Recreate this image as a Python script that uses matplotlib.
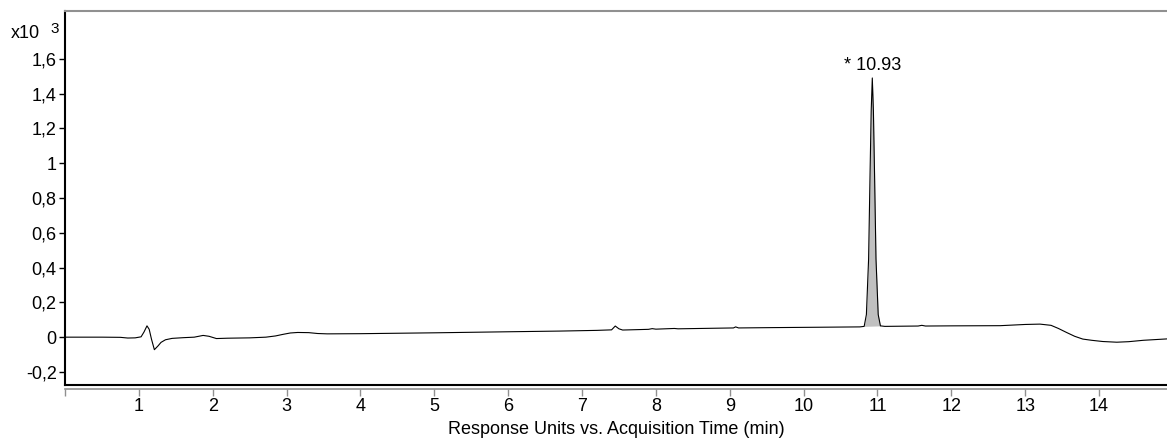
import matplotlib.pyplot as plt
import numpy as np

plt.rcParams['font.family'] = ['Liberation Sans', 'DejaVu Sans']
plt.rcParams['font.size'] = 13

# retention time (min) and response (x10^3 units)
time_min = [0.00, 0.50, 0.75, 0.85, 0.95, 1.03, 1.07, 1.11, 1.14, 1.17, 1.21, 1.26,
            1.30, 1.36, 1.45, 1.60, 1.75, 1.87, 1.95, 2.05, 2.20, 2.50, 2.72,
            2.85, 2.95, 3.05, 3.15, 3.30, 3.42, 3.55, 4.00, 5.00, 6.00, 6.70,
            7.20, 7.40, 7.45, 7.50, 7.55, 7.90, 7.95, 8.00, 8.25, 8.30, 8.60,
            9.05, 9.08, 9.12, 9.60, 10.20, 10.76, 10.82, 10.85, 10.88, 10.90,
            10.915, 10.93, 10.945, 10.96, 10.98, 11.01, 11.04, 11.10, 11.55,
            11.60, 11.65, 12.00, 12.66, 13.00, 13.20, 13.35, 13.45, 13.56,
            13.67, 13.78, 13.90, 14.05, 14.24, 14.40, 14.60, 14.92]
response = [0.000, 0.000, -0.001, -0.005, -0.004, 0.002, 0.030, 0.065, 0.045,
            -0.010, -0.072, -0.050, -0.030, -0.015, -0.007, -0.003, 0.000,
            0.010, 0.005, -0.008, -0.006, -0.004, 0.000, 0.007, 0.016, 0.024,
            0.027, 0.026, 0.021, 0.019, 0.020, 0.025, 0.031, 0.035, 0.039,
            0.042, 0.064, 0.048, 0.041, 0.045, 0.049, 0.046, 0.050, 0.048,
            0.050, 0.053, 0.059, 0.053, 0.055, 0.057, 0.059, 0.062, 0.130,
            0.450, 0.950, 1.300, 1.490, 1.300, 0.950, 0.450, 0.130, 0.065,
            0.062, 0.064, 0.068, 0.064, 0.065, 0.066, 0.073, 0.075, 0.068,
            0.050, 0.027, 0.005, -0.011, -0.018, -0.025, -0.029, -0.026,
            -0.018, -0.010]

peak_rt = 10.93
peak_start, peak_end = 10.82, 11.04
y_ticks = [-0.2, 0, 0.2, 0.4, 0.6, 0.8, 1, 1.2, 1.4, 1.6]
y_labels = ['-0,2', '0', '0,2', '0,4', '0,6', '0,8', '1', '1,2', '1,4', '1,6']
x_ticks = list(range(0, 15))

t = np.array(time_min)
r = np.array(response)

fig = plt.figure(figsize=(11.67, 4.4), dpi=100)
ax = fig.add_axes([0.0557, 0.125, 0.9443, 0.85])

# shaded integrated peak above a straight baseline
mask = (t >= peak_start) & (t <= peak_end)
base = np.interp(t[mask], [peak_start, peak_end],
                 [r[t == peak_start][0], r[t == peak_end][0]])
ax.fill_between(t[mask], base, r[mask], color='#c0c0c0', lw=0)
ax.plot(t, r, color='black', lw=0.8)

ax.set_xlim(0, 14.92)
ax.set_ylim(-0.275, 1.875)

ax.set_yticks(y_ticks)
ax.set_yticklabels(y_labels)
ax.tick_params(axis='y', direction='out', length=4, width=1, color='black', pad=2)
ax.tick_params(axis='x', bottom=False, labelbottom=False)

ax.spines['right'].set_visible(False)
ax.spines['top'].set_color('#909090')
ax.spines['top'].set_linewidth(1.5)
ax.spines['left'].set_linewidth(1.5)
ax.spines['bottom'].set_linewidth(1.5)

# time scale drawn just under the frame
sec = ax.secondary_xaxis('bottom')
sec.spines['bottom'].set_position(('outward', 3))
sec.spines['bottom'].set_color('#909090')
sec.spines['bottom'].set_linewidth(1.2)
sec.set_xticks(x_ticks)
sec.set_xticklabels([''] + [str(v) for v in x_ticks[1:]])
sec.tick_params(axis='x', direction='out', length=5, width=1, color='#909090', pad=1)
sec.set_xlabel('Response Units vs. Acquisition Time (min)', labelpad=5)

ax.annotate('* %.2f' % peak_rt, xy=(peak_rt, max(response)), xytext=(0, 3),
            textcoords='offset points', ha='center', va='bottom')

fig.text(0.009, 0.925, 'x10', ha='left', va='center')
fig.text(0.043, 0.933, '3', ha='left', va='center', fontsize=11)

fig.savefig('out.png', dpi=100)
